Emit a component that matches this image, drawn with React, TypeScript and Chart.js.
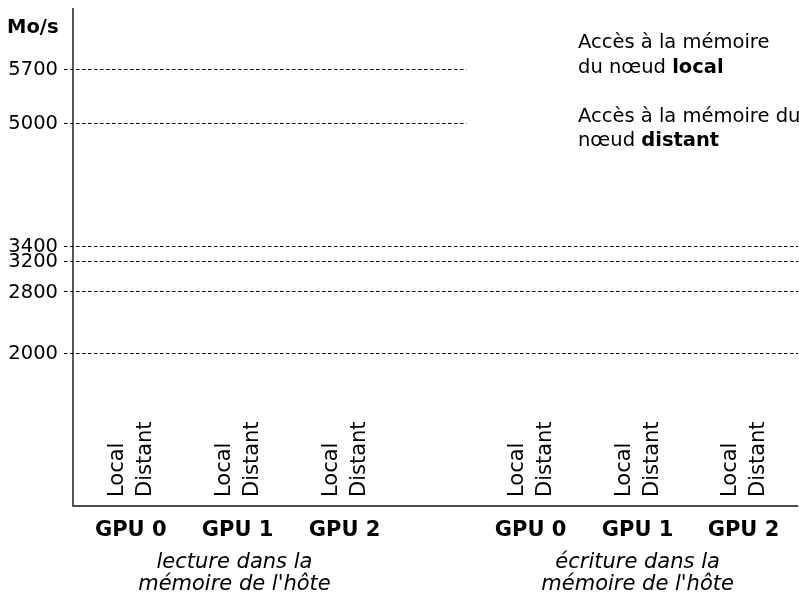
import React, { useEffect, useRef } from "react";
import { Chart, registerables } from "chart.js";

Chart.register(...registerables);

// ---- data ----
const yTicks = [2000, 2800, 3200, 3400, 5000, 5700];
const refLinesRead = [5700, 5000]; // dashed lines spanning the "lecture" side only
const refLinesAll = [3400, 3200, 2800, 2000]; // dashed lines spanning the whole width
const readLinesEndX = 3.68;
const yMax = 6500;
const xMax = 6.78;
const gpuLabels = ["GPU 0", "GPU 1", "GPU 2", "GPU 0", "GPU 1", "GPU 2"];
const gpuX = [0.54, 1.54, 2.54, 4.28, 5.28, 6.27];
const barLabels = ["Local", "Distant"];
const barOffsets = [-0.133, 0.133];
const sectionTitles = [
  ["lecture dans la", "mémoire de l'hôte"],
  ["écriture dans la", "mémoire de l'hôte"],
];
const sectionX = [1.51, 5.28];
const unitLabel = "Mo/s";
const legendLines = [
  [{ t: "Accès à la mémoire", b: false }],
  [{ t: "du nœud ", b: false }, { t: "local", b: true }],
  [{ t: "Accès à la mémoire du", b: false }],
  [{ t: "nœud ", b: false }, { t: "distant", b: true }],
];

const FF = "'DejaVu Sans', sans-serif";

const overlay = {
  id: "overlay",
  afterDraw(chart: any) {
    const ctx = chart.ctx as CanvasRenderingContext2D;
    const xs = chart.scales.x;
    const ys = chart.scales.y;
    const area = chart.chartArea;
    ctx.save();

    // dashed reference lines
    ctx.strokeStyle = "#000";
    ctx.lineWidth = 1.1;
    ctx.setLineDash([3.5, 2.5]);
    const drawDash = (v: number, xEnd: number) => {
      const y = Math.round(ys.getPixelForValue(v)) + 0.5;
      ctx.beginPath();
      ctx.moveTo(area.left - 9, y);
      ctx.lineTo(xEnd, y);
      ctx.stroke();
    };
    refLinesRead.forEach((v) => drawDash(v, xs.getPixelForValue(readLinesEndX)));
    refLinesAll.forEach((v) => drawDash(v, area.right));
    ctx.setLineDash([]);

    // axes
    ctx.lineWidth = 1.4;
    ctx.strokeStyle = "#111";
    ctx.beginPath();
    ctx.moveTo(area.left, area.top);
    ctx.lineTo(area.left, ys.getPixelForValue(0));
    ctx.lineTo(area.right, ys.getPixelForValue(0));
    ctx.stroke();

    // y tick labels
    ctx.fillStyle = "#000";
    ctx.font = `19.5px ${FF}`;
    ctx.textAlign = "right";
    ctx.textBaseline = "middle";
    yTicks.forEach((v) => {
      ctx.fillText(String(v), area.left - 15, ys.getPixelForValue(v) + 1);
    });

    // unit label
    ctx.font = `bold 19.5px ${FF}`;
    ctx.textAlign = "left";
    ctx.textBaseline = "alphabetic";
    ctx.fillText(unitLabel, 7, 33);

    // rotated Local / Distant labels
    const y0 = ys.getPixelForValue(0);
    ctx.font = `21px ${FF}`;
    gpuX.forEach((gx) => {
      barLabels.forEach((lab, i) => {
        const x = xs.getPixelForValue(gx + barOffsets[i]);
        ctx.save();
        ctx.translate(x + 1, y0 - 9);
        ctx.rotate(-Math.PI / 2);
        ctx.textAlign = "left";
        ctx.textBaseline = "middle";
        ctx.fillText(lab, 0, 0);
        ctx.restore();
      });
    });

    // GPU labels
    ctx.font = `bold 21px ${FF}`;
    ctx.textAlign = "center";
    ctx.textBaseline = "alphabetic";
    gpuLabels.forEach((g, i) => {
      ctx.fillText(g, xs.getPixelForValue(gpuX[i]), y0 + 30);
    });

    // section titles
    ctx.font = `italic 21px ${FF}`;
    sectionTitles.forEach((lines, i) => {
      lines.forEach((l, j) => {
        ctx.fillText(l, xs.getPixelForValue(sectionX[i]), y0 + 62 + j * 21.5);
      });
    });

    // legend text (no swatches)
    ctx.textAlign = "left";
    const legendBase = [48, 73, 121.5, 146];
    legendLines.forEach((segs, i) => {
      let x = 578;
      segs.forEach((s) => {
        ctx.font = `${s.b ? "bold " : ""}19.5px ${FF}`;
        ctx.fillText(s.t, x, legendBase[i]);
        x += ctx.measureText(s.t).width;
      });
    });

    ctx.restore();
  },
};

export default function App() {
  const ref = useRef<HTMLCanvasElement | null>(null);
  useEffect(() => {
    if (!ref.current) return;
    const chart = new Chart(ref.current, {
      type: "scatter",
      data: { datasets: [{ data: [], pointRadius: 0 }] },
      options: {
        responsive: false,
        animation: false,
        layout: { padding: { left: 73, right: 1, top: 8, bottom: 86 } },
        plugins: { legend: { display: false }, tooltip: { enabled: false } },
        scales: {
          x: { type: "linear", min: 0, max: xMax, display: false },
          y: { type: "linear", min: 0, max: yMax, display: false },
        },
      },
      plugins: [overlay],
    });
    return () => chart.destroy();
  }, []);
  return (
    <div style={{ position: "fixed", left: 0, top: 0, width: 799, height: 592, background: "#fff" }}>
      <canvas ref={ref} width={799} height={592} style={{ width: 799, height: 592 }} />
    </div>
  );
}
